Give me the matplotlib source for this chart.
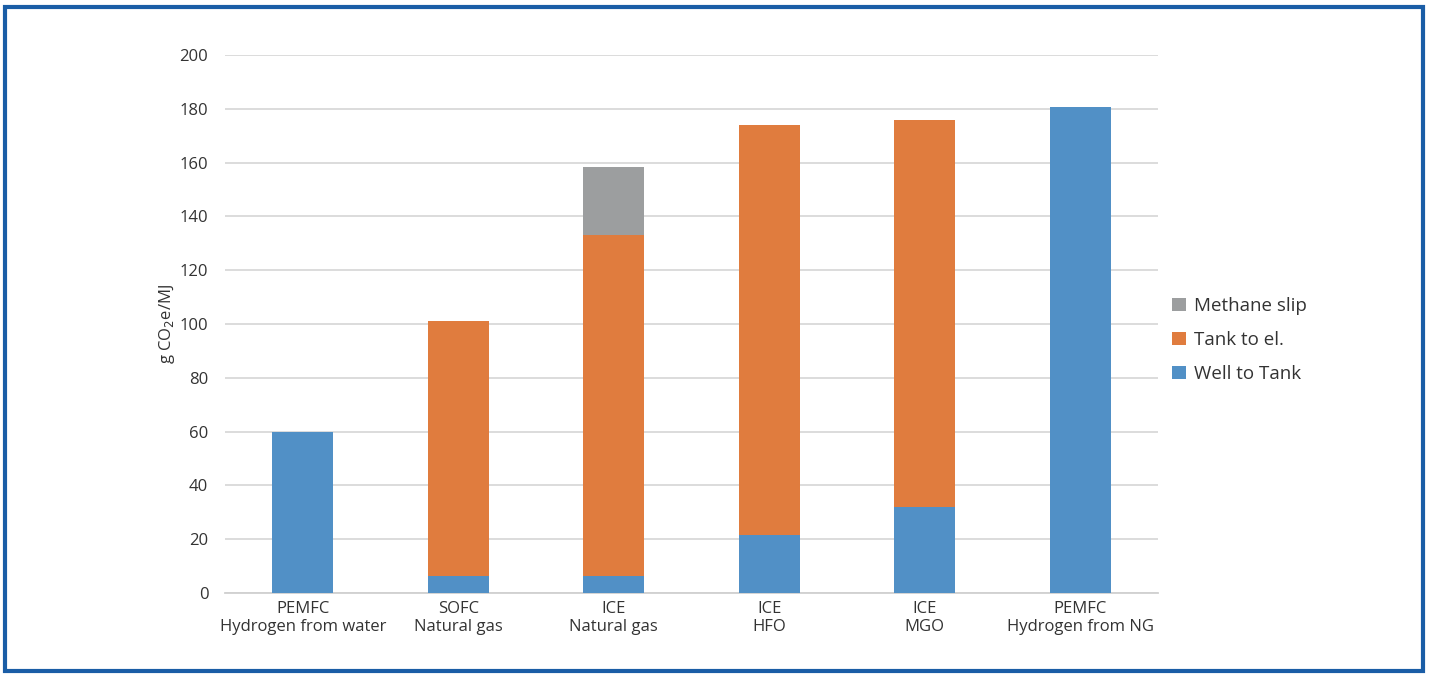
import matplotlib
matplotlib.use("Agg")
import matplotlib.pyplot as plt
from matplotlib.patches import Rectangle
import numpy as np

categories = ["PEMFC\nHydrogen from water", "SOFC\nNatural gas", "ICE\nNatural gas",
              "ICE\nHFO", "ICE\nMGO", "PEMFC\nHydrogen from NG"]
well_to_tank = [60, 6.5, 6.5, 21.5, 32, 180.5]
tank_to_el = [0, 94.5, 126.5, 152.5, 144, 0]
methane_slip = [0, 0, 25.5, 0, 0, 0]

plt.rcParams['font.family'] = ['Open Sans', 'DejaVu Sans']

fig = plt.figure(figsize=(14.30, 6.77), dpi=100)
ax = fig.add_axes([225 / 1430, (677 - 593) / 677, (1158 - 225) / 1430, (593 - 55) / 677])

x = np.arange(len(categories))
w = 0.39
c_blue, c_orange, c_gray = "#5190c6", "#e07c3e", "#9c9e9f"
wt = np.array(well_to_tank)
te = np.array(tank_to_el)
ms = np.array(methane_slip)
ax.bar(x, wt, w, color=c_blue, label="Well to Tank", zorder=3)
ax.bar(x, te, w, bottom=wt, color=c_orange, label="Tank to el.", zorder=3)
ax.bar(x, ms, w, bottom=wt + te, color=c_gray, label="Methane slip", zorder=3)

ax.set_xlim(-0.5, len(categories) - 0.5)
ax.set_ylim(0, 200)
ax.set_yticks(np.arange(0, 201, 20))
ax.grid(axis="y", color="#d9d9d9", linewidth=1.3, zorder=0)
ax.set_xticks(x)
ax.set_xticklabels(categories, fontsize=12, color="#333333", linespacing=1.1)
ax.tick_params(axis="both", length=0, labelsize=12, colors="#333333")
ax.tick_params(axis="y", pad=12)
ax.tick_params(axis="x", pad=6)
for s in ["top", "right", "left"]:
    ax.spines[s].set_visible(False)
ax.spines["bottom"].set_color("#d0d0d0")
ax.spines["bottom"].set_linewidth(1.3)
ax.set_ylabel(r"g CO$_2$e/MJ", fontsize=12, color="#333333", labelpad=2)

handles, labels = ax.get_legend_handles_labels()
leg = fig.legend(handles[::-1], labels[::-1], loc="center left",
                 bbox_to_anchor=(1155 / 1430, 1 - 340 / 677), frameon=False,
                 fontsize=13.5, handlelength=0.75, handleheight=0.75,
                 handletextpad=0.45, labelspacing=0.85)
for t in leg.get_texts():
    t.set_color("#333333")

fig.patches.append(Rectangle((5 / 1430, 6 / 677), 1418 / 1430, 664 / 677,
                             transform=fig.transFigure, fill=False,
                             edgecolor="#1a5da6", linewidth=3))

fig.savefig("out.png", dpi=100, facecolor="white")
